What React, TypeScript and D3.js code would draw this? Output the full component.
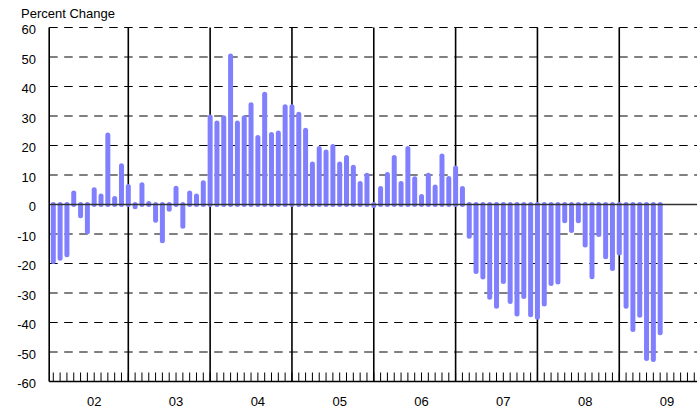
import React from "react";
import * as d3 from "d3";

// Monthly percent change, first bar = Feb 2002, last = Jul 2009
const startIndex = 1; // month index of first bar (0 = Jan 2002 boundary)
const pct2002 = [-19.3, -18.2, -17.0, 3.9, -3.8, -9.2, 5.0, 2.9, 23.6, 2.0, 13.1];
const pct2003 = [6.1, -0.8, 6.7, 0.3, -5.3, -12.3, -1.6, 5.5, -7.4, 3.9, 2.9, 7.4];
const pct2004 = [29.7, 27.6, 29.4, 50.3, 27.6, 29.4, 33.8, 22.7, 37.4, 23.7, 24.2, 33.1];
const pct2005 = [33.1, 30.6, 25.2, 13.7, 19.0, 17.8, 19.7, 13.7, 15.9, 12.6, 7.1, 9.9];
const pct2006 = [-0.3, 5.4, 10.2, 15.9, 7.1, 19.0, 8.7, 2.7, 9.9, 5.9, 16.4, 8.8];
const pct2007 = [12.4, 5.4, -10.8, -22.7, -24.6, -31.4, -34.5, -26.1, -32.9, -37.1, -31.2, -37.4];
const pct2008 = [-38.2, -33.7, -26.8, -26.3, -5.5, -8.8, -5.5, -13.7, -24.5, -10.2, -17.7, -21.7];
const pct2009 = [-16.4, -34.5, -42.4, -37.5, -52.2, -52.5, -43.5];

const yearLabels = ["02", "03", "04", "05", "06", "07", "08", "09"];
const yTicks = [60, 50, 40, 30, 20, 10, 0, -10, -20, -30, -40, -50, -60];
const yTitle = "Percent Change";

const values = [
  ...pct2002, ...pct2003, ...pct2004, ...pct2005,
  ...pct2006, ...pct2007, ...pct2008, ...pct2009,
];

const W = 697;
const H = 409;
const FONT = "'Liberation Sans', Arial, sans-serif";

export default function App() {
  const x = d3.scaleLinear().domain([0.4, 95.4]).range([49.2, 697]);
  const y = d3.scaleLinear().domain([-60, 60]).range([381.5, 27.5]);
  const left = x(0.4);
  const right = W;
  const top = y(60);
  const bottom = y(-60);
  const monthTicks = d3.range(1, 96);
  const yearLines = d3.range(1, yearLabels.length).map((i) => i * 12);

  return (
    <div style={{ position: "absolute", left: 0, top: 0 }}>
      <svg width={W} height={H} style={{ display: "block", background: "#fff" }}>
        <text x={21} y={18} fontFamily={FONT} fontSize={13} fill="#000">
          {yTitle}
        </text>
        {/* dashed grid */}
        {yTicks
          .filter((t) => t !== 0 && t !== -60)
          .map((t) => (
            <line
              key={"g" + t}
              x1={left}
              x2={right}
              y1={y(t)}
              y2={y(t)}
              stroke="#000"
              strokeWidth={1}
              strokeDasharray="8.5,6.5"
            />
          ))}
        {/* year separators */}
        {yearLines.map((m) => (
          <line key={"yl" + m} x1={x(m)} x2={x(m)} y1={top} y2={bottom} stroke="#000" strokeWidth={1.6} />
        ))}
        {/* month ticks */}
        {monthTicks.map((m) => (
          <line key={"t" + m} x1={x(m)} x2={x(m)} y1={bottom - 9} y2={bottom} stroke="#000" strokeWidth={1} />
        ))}
        {/* bars */}
        {values.map((v, i) => (
          <line
            key={"b" + i}
            x1={x(startIndex + i)}
            x2={x(startIndex + i)}
            y1={y(0)}
            y2={y(v)}
            stroke="#8080ff"
            strokeWidth={5}
            strokeLinecap="round"
          />
        ))}
        {/* zero line */}
        <line x1={left} x2={right} y1={y(0)} y2={y(0)} stroke="#333" strokeWidth={1.6} />
        {/* axes */}
        <line x1={left} x2={left} y1={top} y2={bottom} stroke="#000" strokeWidth={1.6} />
        <line x1={left} x2={right} y1={bottom} y2={bottom} stroke="#000" strokeWidth={1.6} />
        {/* y labels */}
        {yTicks.map((t) => (
          <text
            key={"yl" + t}
            x={36}
            y={y(t)}
            dy="0.5em"
            textAnchor="end"
            fontFamily={FONT}
            fontSize={13}
            fill="#000"
          >
            {t}
          </text>
        ))}
        {/* year labels */}
        {yearLabels.map((lab, i) => (
          <text
            key={"x" + lab}
            x={x(i * 12 + 7)}
            y={406}
            textAnchor="middle"
            fontFamily={FONT}
            fontSize={13}
            fill="#000"
          >
            {lab}
          </text>
        ))}
      </svg>
    </div>
  );
}
